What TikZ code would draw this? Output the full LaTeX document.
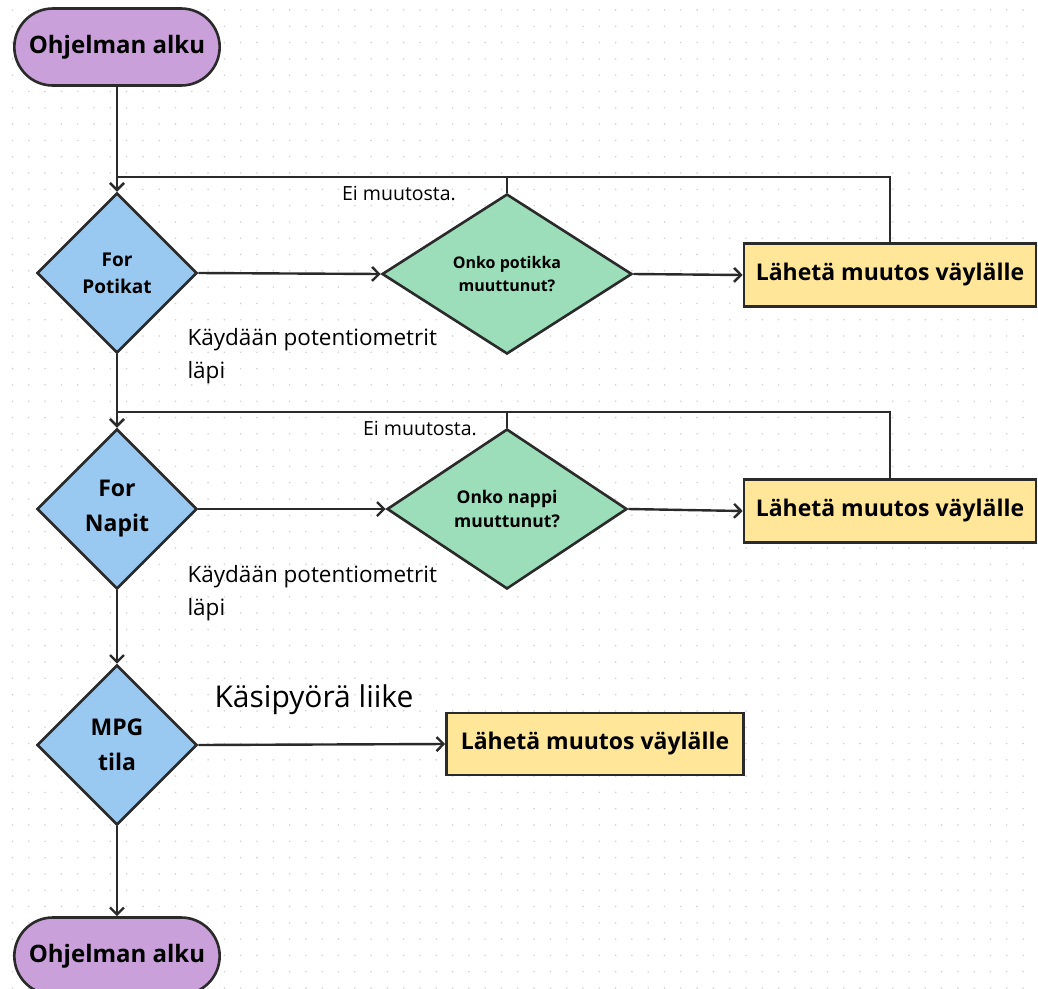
\documentclass[tikz,border=0pt]{standalone}
\usepackage{fontspec}
\setmainfont{Open Sans}
\usepackage{tikz}
\usetikzlibrary{calc,positioning,arrows,arrows.meta,shapes.geometric,shapes}
\definecolor{violetti}{HTML}{C9A0DA}
\definecolor{sininen}{HTML}{99C9F0}
\definecolor{vihrea}{HTML}{9BDEB9}
\definecolor{keltainen}{HTML}{FFE699}
\definecolor{viiva}{HTML}{2A2A2A}
\definecolor{piste}{HTML}{D4D4D4}
\tikzset{
>={Straight Barb[length=7pt,width=14pt]},
  alku/.style={
    rounded rectangle,
    fill=violetti,
    draw=viiva, line width=2.6pt,
    minimum width=212, 
    minimum height=77, 
    font=\bfseries\fontsize{24}{28}\selectfont},
  silmukka/.style={
    diamond,
    fill=sininen,
    draw=viiva, line width=2.6pt,
    inner sep=0pt,
    minimum width=160, 
    minimum height=160, 
    align=center,
    font=\bfseries\fontsize{23}{35}\selectfont},
  ehto/.style={
    diamond,
    fill=vihrea,
    draw=viiva, line width=2.6pt,
    inner sep=0pt,
    minimum width=250, 
    minimum height=160, 
    align=center,
    font=\bfseries\fontsize{16}{23}\selectfont},
  laheta/.style={
    rectangle,
    fill=keltainen,
    draw=viiva, line width=2.6pt,
    minimum width=292, 
    minimum height=63, 
    font=\bfseries\fontsize{23}{28}\selectfont},
  line/.style={draw=viiva, line width=2.4pt},
  teksti/.style={font=\fontsize{22.5}{33}\selectfont, align=left, anchor=west},
  pieni/.style={font=\fontsize{19.5}{22}\selectfont},
}

\begin{document}
\begin{tikzpicture}[x=1pt, y=-1pt]
    \useasboundingbox (0,0) rectangle (1038,988);
    \fill[white] (0,0) rectangle (1038,988);
    % pisteruudukko
    \foreach \i in {0,...,63}
        \foreach \j in {0,...,60}
            \fill[piste] (12.5+16.3*\i, 10+16.3*\j) circle (0.9);

    \node[alku] (alku) at (117,47) {Ohjelman alku};

    \node[silmukka, font=\bfseries\fontsize{19}{27}\selectfont] (potikat) at (117,273) {For\\Potikat};
    \node[ehto] (potikka) at (507,274) {Onko potikka\\muuttunut?};
    \node[laheta] (laheta1) at (890,275) {Lähetä muutos väylälle};

    \node[silmukka] (napit) at (117,509) {For\\Napit};
    \node[ehto, minimum width=240, font=\bfseries\fontsize{17.5}{24}\selectfont] (nappi) at (507,509) {Onko nappi\\muuttunut?};
    \node[laheta] (laheta2) at (890,511) {Lähetä muutos väylälle};

    \node[silmukka] (mpg) at (117,745) {MPG\\tila};
    \node[laheta, minimum width=297, minimum height=62] (laheta3) at (595,744) {Lähetä muutos väylälle};

    \node[alku] (loppu) at (117,956) {Ohjelman alku};

    % paluureitit
    \coordinate (paluu1) at (117,177);
    \coordinate (paluu2) at (117,412);

    \draw[line, ->] (alku.south) -- (potikat.north);
    \draw[line, ->] (potikat.east) -- (potikka.west);
    \draw[line, ->] (potikka.east) -- (laheta1.west);
    \draw[line, ->] (laheta1.north) |- (paluu1) -- (potikat.north);
    \draw[line] (potikka.north) -- (potikka.north |- paluu1);
    \node[pieni] (ei1) at (399,193) {Ei muutosta.};
    \node[teksti] (lapi1) at (184,356) {Käydään potentiometrit\\läpi};

    \draw[line, ->] (potikat.south) -- (napit.north);
    \draw[line, ->] (napit.east) -- (nappi.west);
    \draw[line, ->] (nappi.east) -- (laheta2.west);
    \draw[line, ->] (laheta2.north) |- (paluu2) -- (napit.north);
    \draw[line] (nappi.north) -- (nappi.north |- paluu2);
    \node[pieni] (ei2) at (420,428) {Ei muutosta.};
    \node[teksti] (lapi2) at (184,593) {Käydään potentiometrit\\läpi};

    \draw[line, ->] (napit.south) -- (mpg.north);
    \draw[line, ->] (mpg.east) -- (laheta3.west);
    \node[font=\fontsize{30}{34}\selectfont] (liike) at (314,700) {Käsipyörä liike};

    \draw[line, ->] (mpg.south) -- (loppu.north);
\end{tikzpicture}
\end{document}
